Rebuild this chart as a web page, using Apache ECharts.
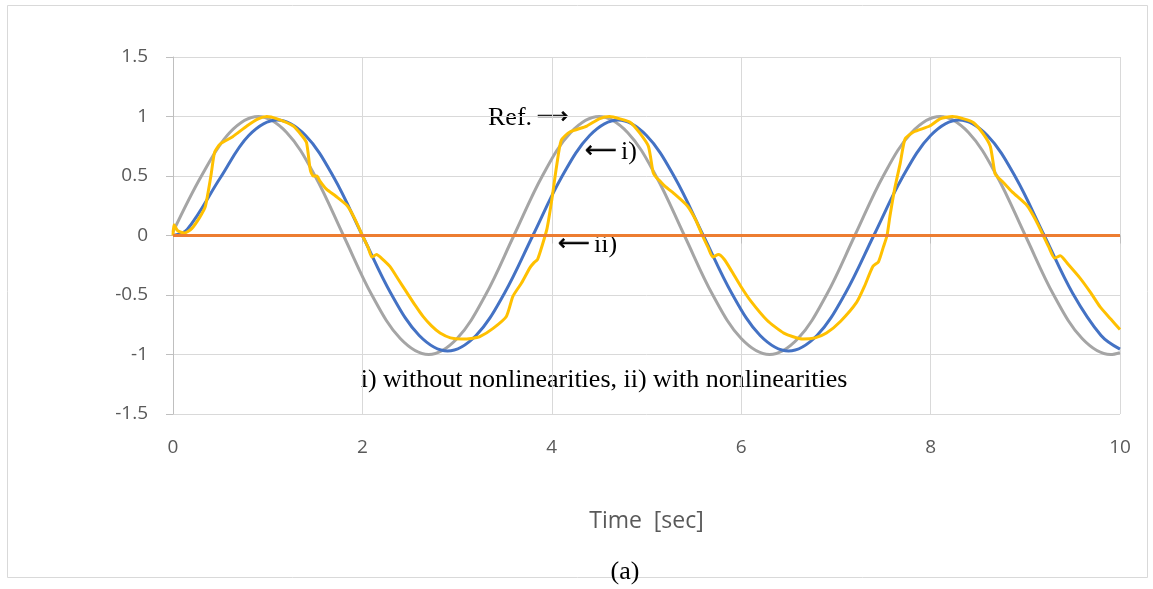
<!DOCTYPE html>
<html>
<head>
<meta charset="utf-8">
<script src="https://cdn.jsdelivr.net/npm/echarts@6/dist/echarts.min.js"></script>
<style>
  html, body { margin: 0; padding: 0; background: #fff; }
  #main { width: 1153px; height: 589px; }
</style>
</head>
<body>
<div id="main"></div>
<script>
// gray reference, sampled every 0.3 s
var refTime = [0, 0.3, 0.6, 0.9, 1.2, 1.5, 1.8, 2.1, 2.4, 2.7, 3, 3.3, 3.6, 3.9, 4.2, 4.5, 4.8, 5.1, 5.4, 5.7,
  6, 6.3, 6.6, 6.9, 7.2, 7.5, 7.8, 8.1, 8.4, 8.7, 9, 9.3, 9.6, 9.9, 10];
var refValues = [0.03, 0.5, 0.866, 1, 0.866, 0.5, 0, -0.5, -0.866, -1, -0.866, -0.5,
  0, 0.5, 0.866, 1, 0.866, 0.5, 0, -0.5, -0.866, -1, -0.866, -0.5,
  0, 0.5, 0.866, 1, 0.866, 0.5, 0, -0.5, -0.866, -1, -0.985];

// blue, i) without nonlinearities
var blueTime = [0, 0.15, 0.5, 0.8, 1.1, 1.4, 1.7, 2, 2.3, 2.6, 2.9, 3.2, 3.5, 3.8, 4.1, 4.4, 4.7, 5, 5.3, 5.6,
  5.9, 6.2, 6.5, 6.8, 7.1, 7.4, 7.7, 8, 8.3, 8.6, 8.9, 9.2, 9.5, 9.8, 10];
var blueValues = [0, 0.05, 0.485, 0.84, 0.97, 0.84, 0.485, 0, -0.485, -0.84, -0.97, -0.84, -0.485,
  0, 0.485, 0.84, 0.97, 0.84, 0.485, 0, -0.485, -0.84, -0.97, -0.84, -0.485,
  0, 0.485, 0.84, 0.97, 0.84, 0.485, 0, -0.485, -0.84, -0.955];

// yellow
var yellowTime = [0, 0.01, 0.05, 0.12, 0.2, 0.28, 0.34, 0.4, 0.44, 0.5, 0.63, 0.78, 0.9, 0.99, 1.1, 1.27, 1.36, 1.41, 1.45, 1.48,
  1.52, 1.55, 1.62, 1.72, 1.84, 1.92, 2, 2.06, 2.1, 2.15, 2.2, 2.29, 2.38, 2.47, 2.56, 2.64, 2.73, 2.82, 2.93, 3.05,
  3.15, 3.24, 3.38, 3.52, 3.59, 3.68, 3.77, 3.81, 3.85, 3.9, 3.95, 4, 4.05, 4.1, 4.19, 4.37, 4.5, 4.61, 4.72, 4.83,
  4.93, 5.02, 5.07, 5.1, 5.14, 5.2, 5.28, 5.43, 5.52, 5.59, 5.65, 5.7, 5.76, 5.82, 5.9, 5.99, 6.1, 6.27, 6.45, 6.65,
  6.78, 6.9, 7.05, 7.22, 7.3, 7.39, 7.45, 7.5, 7.54, 7.57, 7.62, 7.68, 7.73, 7.82, 7.99, 8.1, 8.23, 8.35, 8.45, 8.55,
  8.63, 8.68, 8.71, 8.75, 8.81, 8.87, 9.02, 9.11, 9.19, 9.25, 9.31, 9.37, 9.45, 9.58, 9.69, 9.79, 9.9, 10];
var yellowValues = [0, 0.09, 0.04, 0.02, 0.06, 0.15, 0.24, 0.5, 0.7, 0.77, 0.83, 0.92, 0.98, 1, 0.98, 0.92, 0.84, 0.78, 0.55, 0.5,
  0.5, 0.46, 0.39, 0.33, 0.25, 0.14, 0, -0.1, -0.18, -0.16, -0.19, -0.26, -0.37, -0.48, -0.59, -0.68, -0.76, -0.82, -0.86, -0.87,
  -0.865, -0.85, -0.78, -0.68, -0.51, -0.4, -0.27, -0.23, -0.2, -0.08, 0.06, 0.3, 0.58, 0.8, 0.87, 0.92, 0.98, 1, 0.98, 0.95,
  0.86, 0.75, 0.53, 0.49, 0.46, 0.41, 0.36, 0.25, 0.13, 0, -0.1, -0.18, -0.16, -0.2, -0.3, -0.42, -0.55, -0.71, -0.82, -0.87,
  -0.86, -0.82, -0.72, -0.56, -0.43, -0.26, -0.22, -0.1, 0, 0.16, 0.39, 0.61, 0.81, 0.87, 0.92, 0.98, 1, 0.98, 0.95, 0.86,
  0.75, 0.52, 0.49, 0.46, 0.41, 0.36, 0.25, 0.13, 0, -0.1, -0.19, -0.17, -0.24, -0.36, -0.48, -0.6, -0.7, -0.79];

// orange, ii) with nonlinearities
var orangeTime = [0, 10];
var orangeValues = [0, 0];

var xTicks = [0, 2, 4, 6, 8, 10];

function pairs(xs, ys) {
  return xs.map(function (x, i) { return [x, ys[i]]; });
}

var myChart = echarts.init(document.getElementById("main"));
var labelFont = "'Open Sans', 'Noto Sans', sans-serif";
var serif = "'Liberation Serif', 'DejaVu Serif', serif";
var arrowFont = "'DejaVu Sans', sans-serif";
var arrowStyle = { font: "22px " + arrowFont, fill: "#000", stroke: "#000", lineWidth: 0.7, textVerticalAlign: "middle" };

var option = {
  animation: false,
  backgroundColor: "#fff",
  grid: { left: 173, right: 33, top: 57, bottom: 175 },
  xAxis: {
    type: "value",
    min: xTicks[0],
    max: xTicks[xTicks.length - 1],
    interval: 2,
    name: "Time  [sec]",
    nameLocation: "middle",
    nameGap: 96,
    nameTextStyle: { fontSize: 23, color: "#595959", fontFamily: labelFont },
    axisLine: { show: true, lineStyle: { color: "#bfbfbf", width: 1 } },
    axisTick: { show: true, length: 8, lineStyle: { color: "#bfbfbf" } },
    splitLine: { show: true, lineStyle: { color: "#d9d9d9", width: 1 } },
    axisLabel: { fontSize: 19, color: "#595959", fontFamily: labelFont, margin: 24 }
  },
  yAxis: {
    type: "value",
    min: -1.5,
    max: 1.5,
    interval: 0.5,
    axisLine: { show: true, lineStyle: { color: "#bfbfbf", width: 1 } },
    axisTick: { show: true, length: 7, lineStyle: { color: "#bfbfbf" } },
    splitLine: { show: true, lineStyle: { color: "#d9d9d9", width: 1 } },
    axisLabel: { fontSize: 19, color: "#595959", fontFamily: labelFont, margin: 25 }
  },
  series: [
    {
      name: "Ref.",
      type: "line",
      data: pairs(refTime, refValues),
      showSymbol: false,
      smooth: 0.35,
      lineStyle: { color: "#a5a5a5", width: 3 }
    },
    {
      name: "i)",
      type: "line",
      data: pairs(blueTime, blueValues),
      showSymbol: false,
      smooth: 0.35,
      lineStyle: { color: "#4472c4", width: 3 }
    },
    {
      name: "yellow",
      type: "line",
      data: pairs(yellowTime, yellowValues),
      showSymbol: false,
      smooth: 0.2,
      lineStyle: { color: "#ffc000", width: 3 }
    },
    {
      name: "ii)",
      type: "line",
      data: pairs(orangeTime, orangeValues),
      showSymbol: false,
      lineStyle: { color: "#ed7d31", width: 3 }
    }
  ],
  graphic: [
    {
      type: "rect",
      shape: { x: 7.5, y: 5.5, width: 1140, height: 572 },
      style: { fill: "none", stroke: "#d9d9d9", lineWidth: 1 },
      z: -10
    },
    {
      type: "text", x: 488, y: 118,
      style: { text: "Ref.", font: "26px " + serif, fill: "#000", textVerticalAlign: "middle" }
    },
    { type: "text", x: 537, y: 117, style: Object.assign({ text: "\u27f6" }, arrowStyle) },
    { type: "text", x: 585, y: 151, style: Object.assign({ text: "\u27f5" }, arrowStyle) },
    {
      type: "text", x: 621, y: 152,
      style: { text: "i)", font: "26px " + serif, fill: "#000", textVerticalAlign: "middle" }
    },
    { type: "text", x: 558, y: 244, style: Object.assign({ text: "\u27f5" }, arrowStyle) },
    {
      type: "text", x: 594, y: 245,
      style: { text: "ii)", font: "26px " + serif, fill: "#000", textVerticalAlign: "middle" }
    },
    {
      type: "text", x: 604, y: 380,
      style: { text: "i) without nonlinearities, ii) with nonlinearities", font: "26px " + serif, fill: "#000",
        textAlign: "center", textVerticalAlign: "middle" }
    },
    {
      type: "text", x: 625, y: 572,
      style: { text: "(a)", font: "26px " + serif, fill: "#000", textAlign: "center", textVerticalAlign: "middle" }
    }
  ]
};

myChart.setOption(option);
</script>
</body>
</html>
